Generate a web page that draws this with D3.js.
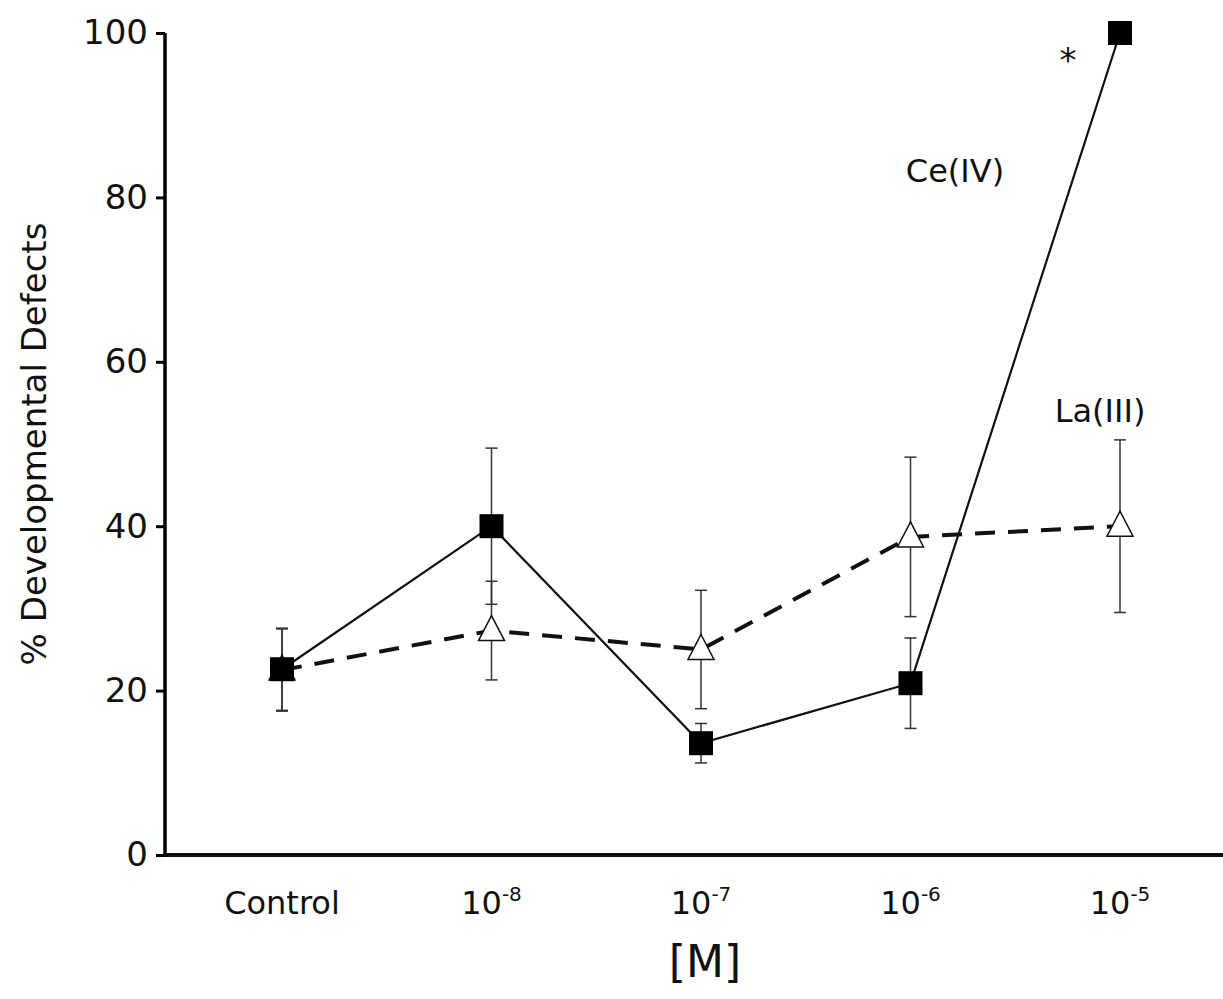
<!DOCTYPE html>
<html>
<head>
<meta charset="utf-8">
<script src="https://cdn.jsdelivr.net/npm/d3@7"></script>
<style>
  body { margin: 0; background: #fff; }
  text { font-family: "DejaVu Sans", Verdana, sans-serif; fill: #111; }
</style>
</head>
<body>
<svg id="chart" width="1223" height="999"></svg>
<script>
var categories = ['Control', '-8', '-7', '-6', '-5']
var ceValues = [22.6, 40, 13.6, 20.9, 100]
var ceErrors = [5, 9.5, 2.4, 5.5, 0]
var laValues = [22.5, 27.3, 25, 38.7, 40]
var laErrors = [5, 6, 7.2, 9.7, 10.5]
var yTicks = [0, 20, 40, 60, 80, 100]

var svg = d3.select('#chart')
var x = d3.scalePoint().domain(categories).range([282, 1120])
var y = d3.scaleLinear().domain([0, 100]).range([855, 33])

// axes
svg.append('line').attr('x1', 165).attr('x2', 1223).attr('y1', y(0)).attr('y2', y(0))
  .attr('stroke', '#111').attr('stroke-width', 4)
var yAxis = svg.append('g').attr('transform', 'translate(165,0)')
  .call(d3.axisLeft(y).tickValues(yTicks).tickSize(9).tickPadding(8))
yAxis.select('.domain').attr('stroke-width', 3.5).attr('d', 'M0,' + y(100) + 'V' + y(0))
yAxis.selectAll('.tick line').attr('stroke-width', 3)
yAxis.selectAll('.tick text').attr('font-size', 34).attr('fill', '#111')
  .style('font-family', '"DejaVu Sans", Verdana, sans-serif')

// x labels
var xl = svg.append('g')
categories.forEach(function (c) {
  var t = xl.append('text').attr('x', x(c)).attr('y', 914)
    .attr('text-anchor', 'middle').attr('font-size', 32)
  if (c === 'Control') { t.text(c) }
  else {
    t.append('tspan').text('10')
    t.append('tspan').attr('font-size', 20).attr('dy', -13).text(c)
  }
})

svg.append('text').attr('x', 705).attr('y', 977).attr('text-anchor', 'middle')
  .attr('font-size', 44).text('[M]')
svg.append('text').attr('transform', 'translate(46,444) rotate(-90)')
  .attr('text-anchor', 'middle').attr('font-size', 34).text('% Developmental Defects')

function errorBars(vals, errs) {
  var g = svg.append('g').attr('stroke', '#333').attr('stroke-width', 1.5)
  vals.forEach(function (v, i) {
    if (!errs[i]) return
    var cx = x(categories[i])
    g.append('line').attr('x1', cx).attr('x2', cx).attr('y1', y(v - errs[i])).attr('y2', y(v + errs[i]))
    ;[v - errs[i], v + errs[i]].forEach(function (e) {
      g.append('line').attr('x1', cx - 6).attr('x2', cx + 6).attr('y1', y(e)).attr('y2', y(e))
    })
  })
}
errorBars(laValues, laErrors)
errorBars(ceValues, ceErrors)

var line = d3.line().x(function (d, i) { return x(categories[i]) }).y(function (d) { return y(d) })

svg.append('path').datum(laValues).attr('d', line).attr('fill', 'none')
  .attr('stroke', '#111').attr('stroke-width', 4).attr('stroke-dasharray', '20,13')
svg.append('path').datum(ceValues).attr('d', line).attr('fill', 'none')
  .attr('stroke', '#111').attr('stroke-width', 2.2)

svg.selectAll('.la').data(laValues).enter().append('path')
  .attr('transform', function (d, i) { return 'translate(' + x(categories[i]) + ',' + y(d) + ')' })
  .attr('d', 'M0,-15L13,10L-13,10Z').attr('fill', '#fff').attr('stroke', '#111').attr('stroke-width', 1.5)

svg.selectAll('.ce').data(ceValues).enter().append('rect')
  .attr('x', function (d, i) { return x(categories[i]) - 12 })
  .attr('y', function (d) { return y(d) - 12 })
  .attr('width', 24).attr('height', 24).attr('fill', '#000')

svg.append('text').attr('x', 955).attr('y', 182).attr('text-anchor', 'middle').attr('font-size', 32).text('Ce(IV)')
svg.append('text').attr('x', 1100).attr('y', 422).attr('text-anchor', 'middle').attr('font-size', 32).text('La(III)')
svg.append('text').attr('x', 1068).attr('y', 72).attr('text-anchor', 'middle').attr('font-size', 34).text('*')
</script>
</body>
</html>
